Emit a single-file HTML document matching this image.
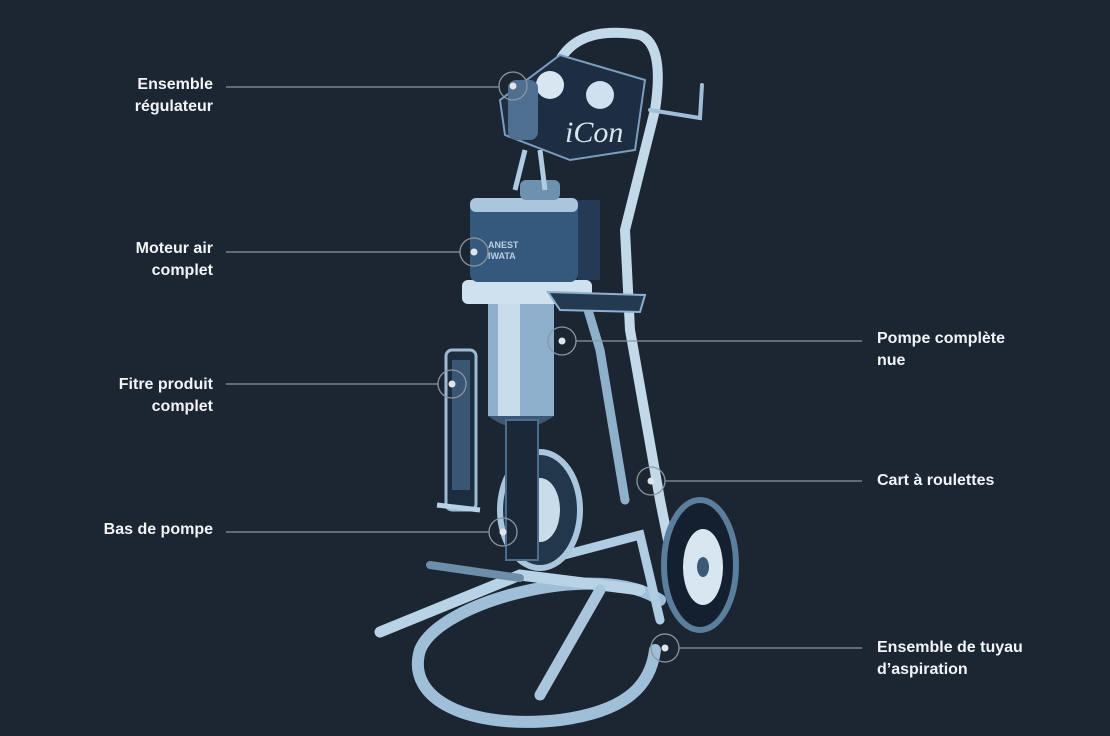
<!DOCTYPE html>
<html><head><meta charset="utf-8"><style>
html,body{margin:0;padding:0;background:#1c2532;}
#c{position:relative;width:1110px;height:736px;overflow:hidden;background:#1c2532;font-family:"Liberation Sans",sans-serif;}
.l{position:absolute;color:#f2f4f6;font-weight:bold;font-size:16px;line-height:22px;}
.r{text-align:right;right:897px;}
</style></head><body><div id="c">
<svg width="1110" height="736" style="position:absolute;left:0;top:0">
<g fill="none" stroke-linecap="round">
<!-- base ring -->
<path d="M660 600 C600 560 440 600 420 650 C405 700 470 730 560 720 C620 712 650 690 655 650" stroke="#9fbfd8" stroke-width="12"/>
<!-- legs -->
<path d="M380 632 L520 575 L640 590" stroke="#b8d2e6" stroke-width="11"/>
<path d="M540 695 L600 590" stroke="#a9c6dd" stroke-width="11"/>
<path d="M430 565 L520 578" stroke="#6d8eab" stroke-width="8"/>
<!-- frame -->
<path d="M545 560 L640 535 L660 620" stroke="#b0cce2" stroke-width="9"/>
<path d="M560 60 Q580 25 640 35 Q665 45 655 110 L625 230 L630 330 L660 500 L668 540" stroke="#c2d9ea" stroke-width="10"/>
<path d="M585 300 L600 350 L625 500" stroke="#8fb0cb" stroke-width="9"/>
<path d="M650 110 L700 118 L702 85" stroke="#9fbfd8" stroke-width="4"/>
</g>
<!-- back wheel -->
<ellipse cx="540" cy="510" rx="40" ry="58" fill="#22364c" stroke="#a9c6dd" stroke-width="6"/>
<ellipse cx="540" cy="510" rx="20" ry="32" fill="#c9dcea"/>
<!-- front wheel -->
<ellipse cx="700" cy="565" rx="36" ry="65" fill="#142030" stroke="#5b7e9c" stroke-width="6"/>
<ellipse cx="703" cy="567" rx="20" ry="38" fill="#d8e6f1"/>
<ellipse cx="703" cy="567" rx="6" ry="10" fill="#3c5a78"/>
<!-- filter -->
<rect x="446" y="350" width="30" height="160" rx="6" fill="#1d2d40" stroke="#9dbad2" stroke-width="3"/>
<rect x="452" y="360" width="18" height="130" fill="#3a5674"/>
<path d="M437 505 L480 510" stroke="#b8d2e6" stroke-width="5"/>
<!-- pump cylinder -->
<rect x="488" y="298" width="66" height="118" fill="#8eb0cc"/>
<rect x="498" y="298" width="22" height="118" fill="#c8dcec"/>
<path d="M488 416 Q520 440 554 416" fill="#3b5977"/>
<!-- lower pump -->
<rect x="506" y="420" width="32" height="140" fill="#1a2838" stroke="#4d6d8d" stroke-width="2"/>
<!-- motor base -->
<rect x="462" y="280" width="130" height="24" rx="6" fill="#cfe0ee"/>
<path d="M548 292 L645 295 L640 312 L560 310 Z" fill="#243a52" stroke="#8fb0cb" stroke-width="2"/>
<!-- motor -->
<rect x="470" y="198" width="108" height="84" rx="8" fill="#35597d"/>
<rect x="470" y="198" width="108" height="14" rx="6" fill="#a9c6dd"/>
<rect x="578" y="200" width="22" height="80" fill="#243b55"/>
<text x="488" y="248" font-family="Liberation Sans" font-size="9" font-weight="bold" fill="#b9cfe2">ANEST</text>
<text x="488" y="259" font-family="Liberation Sans" font-size="9" font-weight="bold" fill="#b9cfe2">IWATA</text>
<rect x="520" y="180" width="40" height="20" rx="6" fill="#6f91b0"/>
<!-- rods -->
<path d="M525 150 L515 190 M540 150 L545 190" stroke="#b0cce2" stroke-width="5"/>
<!-- regulator -->
<path d="M500 100 L560 55 L645 80 L635 150 L570 160 L505 135 Z" fill="#1d2e42" stroke="#7a9ebf" stroke-width="2"/>
<circle cx="600" cy="95" r="14" fill="#cfe0ee"/>
<circle cx="550" cy="85" r="14" fill="#d8e6f1"/>
<rect x="508" y="80" width="30" height="60" rx="8" fill="#4f6f90"/>
<text x="565" y="142" font-family="Liberation Serif" font-style="italic" font-size="30" fill="#d7e5f0">iCon</text>
</svg>
<svg width="1110" height="736" style="position:absolute;left:0;top:0">
<g stroke="#8b96a2" stroke-width="1.3" fill="none">
<line x1="226" y1="87" x2="499" y2="87"/><circle cx="513" cy="86" r="14"/>
<line x1="226" y1="252" x2="460" y2="252"/><circle cx="474" cy="252" r="14"/>
<line x1="226" y1="384" x2="438" y2="384"/><circle cx="452" cy="384" r="14"/>
<line x1="226" y1="532" x2="489" y2="532"/><circle cx="503" cy="532" r="14"/>
<line x1="576" y1="341" x2="862" y2="341"/><circle cx="562" cy="341" r="14"/>
<line x1="665" y1="481" x2="862" y2="481"/><circle cx="651" cy="481" r="14"/>
<line x1="679" y1="648" x2="862" y2="648"/><circle cx="665" cy="648" r="14"/>
</g>
<g fill="#dfe5ea">
<circle cx="513" cy="86" r="3.5"/><circle cx="474" cy="252" r="3.5"/><circle cx="452" cy="384" r="3.5"/><circle cx="503" cy="532" r="3.5"/><circle cx="562" cy="341" r="3.5"/><circle cx="651" cy="481" r="3.5"/><circle cx="665" cy="648" r="3.5"/>
</g>
</svg>
<div class="l r" style="top:74px">Ensemble<br>régulateur</div>
<div class="l r" style="top:238px">Moteur air<br>complet</div>
<div class="l r" style="top:374px">Fitre produit<br>complet</div>
<div class="l r" style="top:519px">Bas de pompe</div>
<div class="l" style="left:877px;top:328px">Pompe complète<br>nue</div>
<div class="l" style="left:877px;top:470px">Cart à roulettes</div>
<div class="l" style="left:877px;top:637px">Ensemble de tuyau<br>d’aspiration</div>
</div></body></html>
